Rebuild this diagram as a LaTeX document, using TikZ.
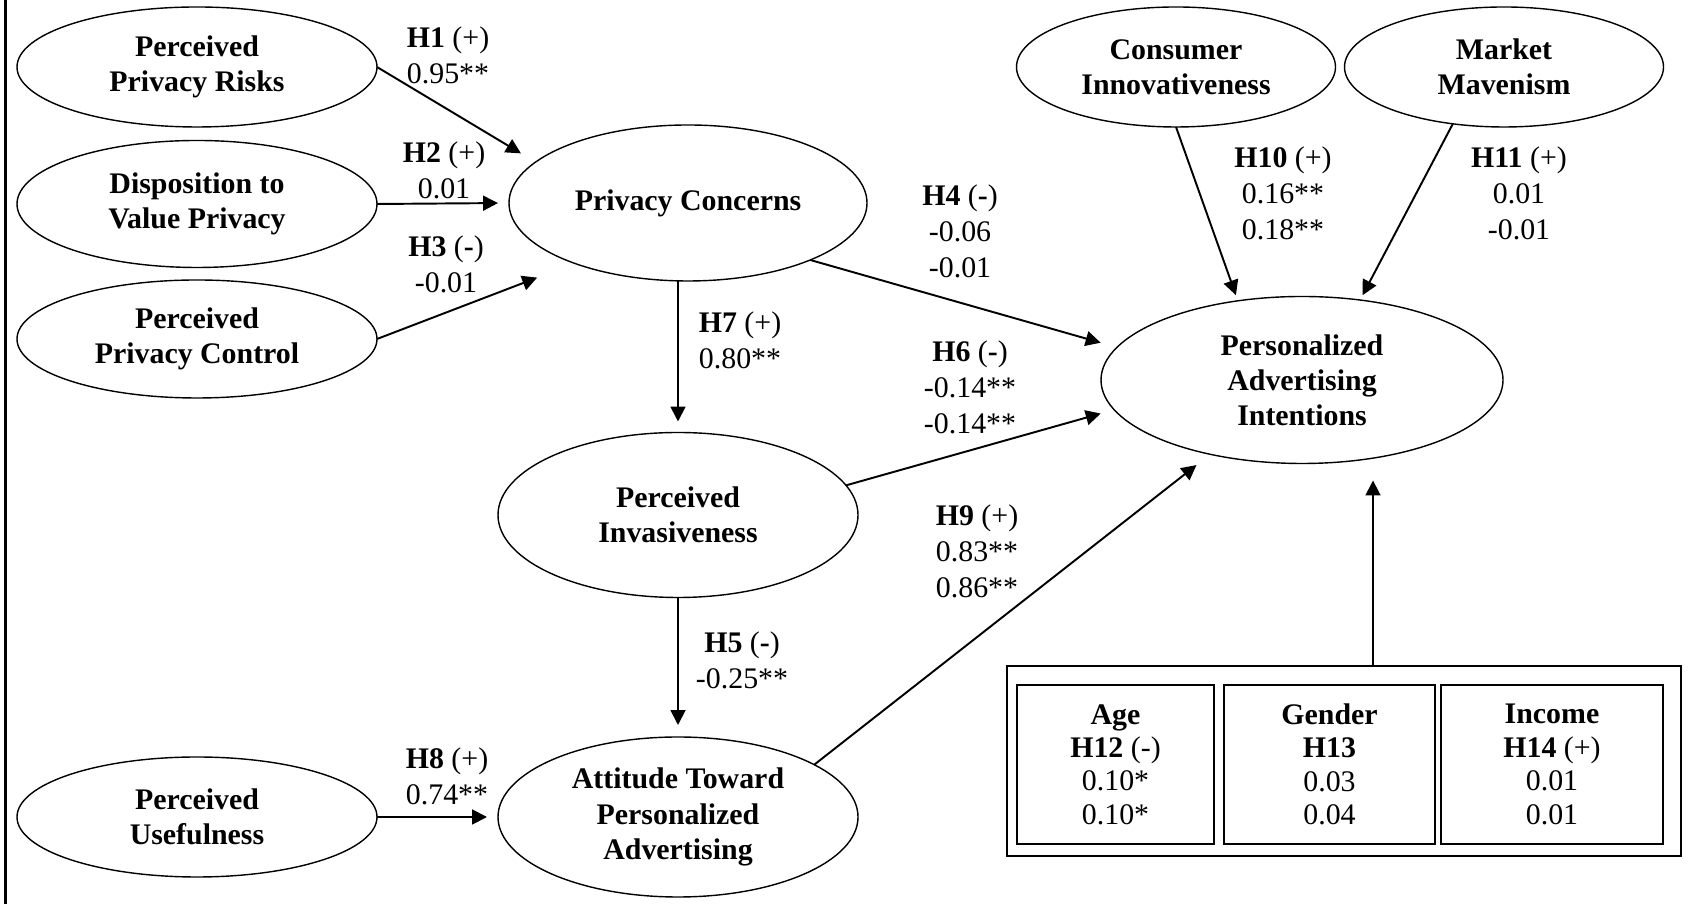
\documentclass[tikz,border=0pt]{standalone}
\usepackage{fontspec}
\setmainfont{Liberation Serif}
\usetikzlibrary{arrows.meta,shapes.geometric}

\begin{document}
\begin{tikzpicture}[
  font=\fontsize{17}{20.5}\selectfont,
  cons/.style={ellipse, draw, line width=0.8pt, inner sep=0pt, outer sep=0pt,
               align=center, font=\fontsize{17}{20}\selectfont\bfseries},
  hyp/.style={align=center, inner sep=0pt},
  arr/.style={-{Triangle[length=8.5pt,width=8.5pt]}, line width=1.1pt},
  ctlbox/.style={draw, line width=1.2pt, minimum width=#1, minimum height=3.18cm,
                 inner sep=0pt, align=center, font=\fontsize{17}{19}\selectfont},
]
\useasboundingbox (0,0) rectangle (33.92,18.08);

% left rule
\draw[line width=2pt] (0.11,0) -- (0.11,18.08);

% ============================================================
% CONSTRUCTS
% ============================================================
\node[cons, minimum width=7.2cm, minimum height=2.4cm]  (ppr) at (3.94,16.74) {Perceived\\Privacy Risks};
\node[cons, minimum width=7.2cm, minimum height=2.54cm] (dvp) at (3.94,14.00) {Disposition to\\Value Privacy};
\node[cons, minimum width=7.2cm, minimum height=2.36cm] (ppc) at (3.94,11.30) {Perceived\\Privacy Control};
\node[cons, minimum width=7.2cm, minimum height=2.4cm]  (pu)  at (3.94,1.74)  {Perceived\\Usefulness};

\node[cons, minimum width=7.16cm, minimum height=3.12cm] (pc)  at (13.76,14.02) {Privacy Concerns};
\node[cons, minimum width=7.2cm,  minimum height=3.3cm]  (pi)  at (13.56,7.78)  {Perceived\\Invasiveness};
\node[cons, minimum width=7.2cm,  minimum height=3.2cm]  (att) at (13.56,1.74)  {Attitude Toward\\Personalized\\Advertising};

\node[cons, minimum width=6.38cm, minimum height=2.4cm]  (ci)  at (23.52,16.74) {Consumer\\Innovativeness};
\node[cons, minimum width=6.38cm, minimum height=2.4cm]  (mm)  at (30.08,16.74) {Market\\Mavenism};
\node[cons, minimum width=8.04cm, minimum height=3.34cm] (pai) at (26.04,10.48) {Personalized\\Advertising\\Intentions};

% control variables
\node[draw, line width=1.2pt, minimum width=13.48cm, minimum height=3.8cm] (ctrl) at (26.88,2.86) {};
\node[ctlbox=3.94cm] (age)    at (22.31,2.79) {\textbf{Age}\\\textbf{H12} (-)\\0.10*\\0.10*};
\node[ctlbox=4.22cm] (gender) at (26.59,2.79) {\textbf{Gender}\\\textbf{H13}\\0.03\\0.04};
\node[ctlbox=4.44cm] (income) at (31.04,2.79) {\textbf{Income}\\\textbf{H14} (+)\\0.01\\0.01};

% ============================================================
% PATHS
% ============================================================
\draw[arr, shorten >=0.34cm] (ppr.east) -- (pc.165);
\draw[arr, shorten >=0.22cm] (dvp.east) -- (pc.west);
\draw[arr, shorten >=0.8cm]  (ppc.east) -- (pc.208);
\draw[arr, shorten >=0.34cm] (pc.335) -- (pai.170);
\draw[arr, shorten >=0.22cm] (pi.north |- pc.south) -- (pi.north);
\draw[arr, shorten >=0.28cm] (pi.10) -- (pai.189);
\draw[arr, shorten >=0.24cm] (pi.south) -- (att.north);
\draw[arr, shorten >=0.22cm] (pu.east) -- (att.west);
\draw[arr, shorten >=0.35cm] (att.21) -- (pai.219);
\draw[arr, shorten >=0.12cm] (ci.south) -- (pai.129);
\draw[arr, shorten >=0.11cm] (mm.228) -- (pai.54);
\draw[arr, shorten >=0.34cm] ([xshift=0.58cm]ctrl.north) -- ([xshift=0.58cm]ctrl.north |- pai.south);

% path coefficients
\node[hyp] (lh1)  at (8.96,16.98)  {\textbf{H1} (+)\\0.95**};
\node[hyp] (lh2)  at (8.88,14.68)  {\textbf{H2} (+)\\0.01};
\node[hyp] (lh3)  at (8.92,12.80)  {\textbf{H3} (\textbf{-})\\-0.01};
\node[hyp] (lh4)  at (19.20,13.46) {\textbf{H4} (\textbf{-})\\-0.06\\-0.01};
\node[hyp] (lh7)  at (14.80,11.28) {\textbf{H7} (+)\\0.80**};
\node[hyp] (lh6)  at (19.40,10.34) {\textbf{H6} (\textbf{-})\\-0.14**\\-0.14**};
\node[hyp] (lh9)  at (19.54,7.06)  {\textbf{H9} (+)\\0.83**\\0.86**};
\node[hyp] (lh5)  at (14.84,4.88)  {\textbf{H5} (\textbf{-})\\-0.25**};
\node[hyp] (lh8)  at (8.94,2.56)   {\textbf{H8} (+)\\0.74**};
\node[hyp] (lh10) at (25.66,14.22) {\textbf{H10} (+)\\0.16**\\0.18**};
\node[hyp] (lh11) at (30.38,14.22) {\textbf{H11} (+)\\0.01\\-0.01};

\end{tikzpicture}
\end{document}
